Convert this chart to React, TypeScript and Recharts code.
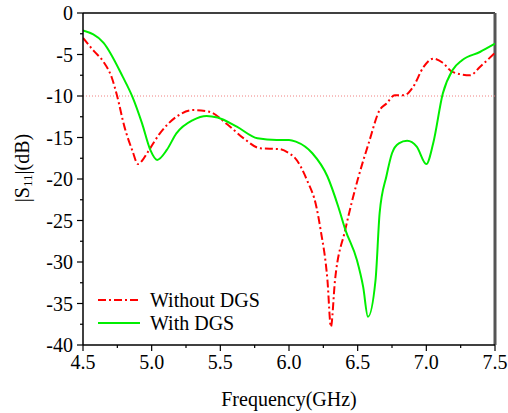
import React from 'react';
import { LineChart, Line, XAxis, YAxis, ReferenceLine, Legend } from 'recharts';

const freqWithout = [4.5, 4.58, 4.65, 4.71, 4.75, 4.8, 4.86, 4.9, 4.93, 4.97, 5.06, 5.18, 5.3, 5.42, 5.55, 5.67, 5.79, 5.93, 6.0, 6.04, 6.13, 6.2, 6.23, 6.28, 6.305, 6.335, 6.41, 6.5, 6.58, 6.66, 6.71, 6.77, 6.84, 6.9, 6.98, 7.05, 7.12, 7.19, 7.32, 7.39, 7.5];
const s11Without = [-3.0, -4.6, -5.9, -7.8, -10.1, -13.6, -16.6, -18.2, -17.8, -16.8, -14.5, -12.5, -11.7, -11.9, -13.4, -15.1, -16.3, -16.4, -16.9, -17.4, -20.1, -23.4, -26.1, -32.2, -37.8, -32.2, -26.1, -20.1, -15.7, -11.7, -10.9, -9.9, -9.9, -9.0, -6.5, -5.5, -6.0, -7.1, -7.5, -6.5, -4.8];

const freqWith = [4.5, 4.65, 4.79, 4.86, 4.93, 4.99, 5.04, 5.11, 5.18, 5.3, 5.4, 5.48, 5.62, 5.77, 5.91, 6.0, 6.05, 6.17, 6.28, 6.36, 6.41, 6.495, 6.54, 6.575, 6.63, 6.66, 6.71, 6.75, 6.8, 6.86, 6.93, 7.0, 7.05, 7.12, 7.19, 7.26, 7.39, 7.5];
const s11With = [-2.1, -3.6, -7.7, -10.1, -13.3, -16.5, -17.7, -16.5, -14.5, -12.9, -12.4, -12.6, -13.7, -15.1, -15.3, -15.3, -15.5, -16.9, -19.7, -23.4, -26.1, -29.8, -33.0, -36.6, -32.2, -24.1, -19.6, -16.9, -15.7, -15.4, -16.1, -18.2, -15.7, -9.7, -6.9, -5.7, -4.7, -3.7];

const xTicks = [4.5, 4.75, 5.0, 5.25, 5.5, 5.75, 6.0, 6.25, 6.5, 6.75, 7.0, 7.25, 7.5];
const yTicks = [-40, -37.5, -35, -32.5, -30, -27.5, -25, -22.5, -20, -17.5, -15, -12.5, -10, -7.5, -5, -2.5, 0];

const seriesNames = ['Without DGS', 'With DGS'];
const colors = ['#ff0000', '#00ee00'];

const dataWithout = freqWithout.map((f, i) => ({ x: f, y: s11Without[i] }));
const dataWith = freqWith.map((f, i) => ({ x: f, y: s11With[i] }));

const FF = 'Liberation Serif';

const XTick = (props: any) => {
  const { x, y, payload } = props;
  const v = payload.value;
  const major = Math.abs(v * 2 - Math.round(v * 2)) < 1e-6;
  return (
    <g>
      <line x1={x} x2={x} y1={y} y2={y + (major ? 6 : 3)} stroke="#000" strokeWidth={1.2} />
      {major && (
        <text x={x} y={y + 17} textAnchor="middle" dominantBaseline="central" fontFamily={FF} fontSize={20} fill="#000">
          {v.toFixed(1)}
        </text>
      )}
    </g>
  );
};

const YTick = (props: any) => {
  const { x, y, payload } = props;
  const v = payload.value;
  const major = Math.abs(v / 5 - Math.round(v / 5)) < 1e-6;
  return (
    <g>
      <line x1={x - (major ? 6 : 3)} x2={x} y1={y} y2={y} stroke="#000" strokeWidth={1.2} />
      {major && (
        <text x={x - 10} y={y} textAnchor="end" dominantBaseline="central" fontFamily={FF} fontSize={20} fill="#000">
          {String(v)}
        </text>
      )}
    </g>
  );
};

const YLabel = () => {
  const cx = 22;
  const cy = 168;
  return (
    <text x={cx} y={cy} transform={`rotate(-90 ${cx} ${cy})`} textAnchor="middle" dominantBaseline="central" fontFamily={FF} fontSize={20} fill="#000">
      |S<tspan fontSize={13} dy={5}>11</tspan><tspan dy={-5}>|(dB)</tspan>
    </text>
  );
};

const XLabel = (props: any) => {
  const vb = props.viewBox || {};
  const cx = vb.x + vb.width / 2;
  return (
    <text x={cx} y={vb.y + 54} textAnchor="middle" dominantBaseline="central" fontFamily={FF} fontSize={20} fill="#000">
      Frequency(GHz)
    </text>
  );
};

const LegendContent = () => (
  <svg width={200} height={52} style={{ fontFamily: FF }}>
    <line x1={8} x2={50} y1={15} y2={15} stroke={colors[0]} strokeWidth={2} strokeDasharray="8 3 2 3" />
    <text x={60} y={15} dominantBaseline="central" fontFamily={FF} fontSize={20} fill="#000">{seriesNames[0]}</text>
    <line x1={8} x2={50} y1={38} y2={38} stroke={colors[1]} strokeWidth={2} />
    <text x={60} y={38} dominantBaseline="central" fontFamily={FF} fontSize={20} fill="#000">{seriesNames[1]}</text>
  </svg>
);

export default function App() {
  return (
    <div style={{ position: 'absolute', left: 0, top: 0, width: 508, height: 413, background: '#fff', fontFamily: FF }}>
      <LineChart width={508} height={413} margin={{ top: 13, right: 13, bottom: 0, left: 0 }} style={{ fontFamily: FF }}>
        <XAxis
          type="number"
          dataKey="x"
          domain={[4.5, 7.5]}
          ticks={xTicks}
          interval={0}
          height={68}
          tickSize={0}
          tickMargin={0}
          tickLine={false}
          tick={(p: any) => <XTick {...p} />}
          axisLine={{ stroke: '#000', strokeWidth: 1.5 }}
          allowDataOverflow
          label={{ content: (p: any) => <XLabel {...p} /> }}
        />
        <YAxis
          type="number"
          dataKey="y"
          domain={[-40, 0]}
          ticks={yTicks}
          interval={0}
          width={83}
          tickSize={0}
          tickMargin={0}
          tickLine={false}
          tick={(p: any) => <YTick {...p} />}
          axisLine={{ stroke: '#000', strokeWidth: 1.5 }}
          allowDataOverflow
          label={{ content: () => <YLabel /> }}
        />
        <ReferenceLine y={0} stroke="#000" strokeWidth={1.5} />
        <ReferenceLine x={7.5} stroke="#555" strokeWidth={3} />
        <ReferenceLine y={-10} stroke="#f08080" strokeWidth={1} strokeDasharray="1 2" />
        <Line
          data={dataWithout}
          dataKey="y"
          name={seriesNames[0]}
          type="monotone"
          stroke={colors[0]}
          strokeWidth={2}
          strokeDasharray="8 3 2 3"
          dot={false}
          isAnimationActive={false}
        />
        <Line
          data={dataWith}
          dataKey="y"
          name={seriesNames[1]}
          type="monotone"
          stroke={colors[1]}
          strokeWidth={2}
          dot={false}
          isAnimationActive={false}
        />
        <Legend
          layout="vertical"
          align="center"
          verticalAlign="middle"
          content={() => <LegendContent />}
          wrapperStyle={{ left: 90, top: 285, width: 200, height: 52 }}
        />
      </LineChart>
    </div>
  );
}
